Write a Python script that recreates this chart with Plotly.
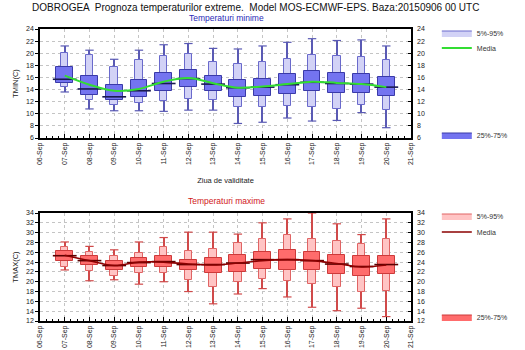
import plotly.graph_objects as go
import pandas as pd

# ---------------- data ----------------
days = pd.date_range("2015-09-07", "2015-09-20", freq="D").strftime("%Y-%m-%d").tolist()

tmin_max = [21.2, 20.5, 19.0, 20.5, 21.4, 21.6, 20.8, 20.7, 21.2, 21.8, 22.4, 22.1, 22.2, 21.2]
tmin_p95 = [20.0, 19.7, 17.7, 18.8, 19.5, 19.8, 18.6, 18.3, 18.6, 19.1, 19.7, 19.6, 19.3, 18.8]
tmin_p75 = [17.7, 16.2, 14.8, 15.6, 16.7, 17.3, 16.3, 15.6, 15.8, 16.6, 17.1, 16.7, 16.6, 16.0]
tmin_med = [15.7, 14.1, 12.8, 13.8, 15.0, 15.8, 14.9, 14.3, 14.4, 14.8, 15.2, 15.0, 14.9, 14.4]
tmin_p25 = [15.1, 13.1, 12.3, 12.8, 13.8, 14.5, 13.7, 12.8, 12.9, 13.2, 13.8, 13.4, 13.4, 12.9]
tmin_p05 = [14.5, 12.2, 11.4, 11.7, 12.1, 12.4, 12.2, 11.1, 11.1, 11.3, 11.2, 10.8, 11.5, 10.6]
tmin_min = [13.6, 10.8, 10.5, 10.5, 10.4, 10.6, 10.6, 8.4, 8.6, 9.3, 8.8, 8.9, 10.2, 7.7]
tmin_mean = [16.3, 14.8, 13.8, 14.1, 15.3, 15.9, 15.05, 14.3, 14.5, 14.9, 15.3, 15.1, 14.9, 14.4]

tmax_max = [28.1, 27.2, 26.5, 28.1, 29.0, 30.1, 30.1, 29.7, 32.0, 32.8, 34.0, 31.8, 29.6, 32.8]
tmax_p95 = [27.1, 26.0, 25.3, 25.8, 27.1, 26.3, 26.7, 27.9, 28.7, 29.6, 28.8, 28.2, 27.7, 28.7]
tmax_p75 = [26.3, 25.2, 24.3, 24.8, 25.2, 24.5, 24.8, 25.5, 26.1, 26.4, 26.0, 25.5, 25.2, 25.3]
tmax_med = [25.3, 24.3, 23.3, 23.9, 24.1, 23.5, 23.5, 23.8, 24.5, 24.5, 24.3, 23.6, 23.1, 23.5]
tmax_p25 = [24.3, 23.5, 22.4, 23.1, 23.1, 22.4, 21.8, 22.0, 22.6, 22.4, 22.3, 21.6, 21.1, 21.6]
tmax_p05 = [23.1, 22.1, 21.2, 21.8, 21.8, 20.4, 18.9, 20.0, 20.5, 20.1, 19.5, 18.9, 18.0, 18.2]
tmax_min = [22.4, 20.2, 20.4, 19.5, 20.0, 18.0, 15.5, 17.5, 18.6, 16.9, 14.8, 14.1, 14.6, 12.9]
tmax_mean = [25.4, 24.3, 23.3, 24.0, 24.0, 23.6, 23.4, 23.8, 24.3, 24.5, 24.3, 23.7, 23.0, 23.4]

# ---------------- figure ----------------
DAY = 86400000
FONT = "Liberation Sans, Arial, sans-serif"
fig = go.Figure()

W, H = 525, 350
L, R, T, B = 40, 97, 29, 29
PW, PH = W - L - R, H - T - B


def px_x(x):
    return (x - L) / PW


def px_y(y):
    return (H - B - y) / PH


def panel(xa, ya, mx, p95, p75, med, p25, p05, mn, mean, col, lg):
    diff = lambda a, b: [u - v for u, v in zip(a, b)]
    fig.add_trace(go.Bar(x=days, base=mn, y=diff(mx, mn), width=0.05 * DAY,
                         marker=dict(color=col["wh"], line=dict(width=0)),
                         xaxis=xa, yaxis=ya, showlegend=False, hoverinfo="skip"))
    fig.add_trace(go.Bar(x=days, base=p05, y=diff(p95, p05), width=0.30 * DAY,
                         marker=dict(color=col["light"], line=dict(color=col["lightline"], width=1)),
                         xaxis=xa, yaxis=ya, showlegend=False, name="5%-95%"))
    fig.add_trace(go.Bar(x=days, base=p25, y=diff(p75, p25), width=0.68 * DAY,
                         marker=dict(color=col["dark"], line=dict(color=col["darkline"], width=1)),
                         xaxis=xa, yaxis=ya, showlegend=False, name="25%-75%"))
    fig.add_trace(go.Scatter(x=days + days, y=mx + mn, mode="markers",
                             marker=dict(symbol="line-ew", size=6, line=dict(color=col["wh"], width=1.2)),
                             xaxis=xa, yaxis=ya, showlegend=False, hoverinfo="skip"))
    fig.add_trace(go.Scatter(x=days, y=med, mode="markers",
                             marker=dict(symbol="line-ew", size=17, line=dict(color=col["med"], width=1.6)),
                             xaxis=xa, yaxis=ya, showlegend=False, name="Mediana"))
    fig.add_trace(go.Scatter(x=days, y=mean, mode="lines", name="Media",
                             line=dict(color=col["mean"], width=col["meanw"], shape="spline", smoothing=1.0),
                             xaxis=xa, yaxis=ya, legend=lg[1]))
    # legend entries for the boxes
    fig.add_trace(go.Scatter(x=[None], y=[None], mode="lines", fill="toself", name="5%-95%",
                             fillcolor=col["light"], line=dict(color=col["lightline"], width=1),
                             xaxis=xa, yaxis=ya, legend=lg[0]))
    fig.add_trace(go.Scatter(x=[None], y=[None], mode="lines", fill="toself", name="25%-75%",
                             fillcolor=col["dark"], line=dict(color=col["darkline"], width=1),
                             xaxis=xa, yaxis=ya, legend=lg[2]))


blue = dict(wh="#5a5ab4", light="#d2d2f6", lightline="#6a6acc", dark="#7474f0",
            darkline="#3a3aa8", med="#1a1a50", mean="#33dd33", meanw=2)
red = dict(wh="#d04a4a", light="#ffc4c4", lightline="#e06464", dark="#ff6c6c",
           darkline="#cc3a3a", med="#5a0000", mean="#8b0000", meanw=1.6)

panel("x", "y", tmin_max, tmin_p95, tmin_p75, tmin_med, tmin_p25, tmin_p05, tmin_min, tmin_mean,
      blue, ["legend", "legend2", "legend3"])
panel("x2", "y2", tmax_max, tmax_p95, tmax_p75, tmax_med, tmax_p25, tmax_p05, tmax_min, tmax_mean,
      red, ["legend4", "legend5", "legend6"])

# invisible traces to activate the right-hand label axes
fig.add_trace(go.Scatter(x=days, y=tmin_mean, mode="lines", line=dict(width=0), opacity=0,
                         xaxis="x", yaxis="y3", showlegend=False, hoverinfo="skip"))
fig.add_trace(go.Scatter(x=days, y=tmax_mean, mode="lines", line=dict(width=0), opacity=0,
                         xaxis="x2", yaxis="y4", showlegend=False, hoverinfo="skip"))

top_dom = [px_y(138), 1]
bot_dom = [0, px_y(213)]

xcommon = dict(type="date", range=["2015-09-06", "2015-09-21"], dtick=DAY, tick0="2015-09-06",
               tickformat="%d-%b", tickangle=-90, ticks="inside", ticklen=4, tickcolor="black",
               minor=dict(dtick=DAY / 4, ticks="inside", ticklen=2, tickcolor="black", showgrid=False),
               showgrid=True, gridcolor="#c4c4c4", griddash="dot", gridwidth=1,
               showline=True, linecolor="black", linewidth=1.5, mirror=True,
               tickfont=dict(size=7, color="#222222", family=FONT), automargin=False, zeroline=False)
ycommon = dict(dtick=2, ticks="outside", ticklen=3, tickcolor="black",
               showgrid=True, gridcolor="#c4c4c4", griddash="dot", gridwidth=1,
               showline=True, linecolor="black", linewidth=1.5, mirror=True,
               tickfont=dict(size=7, color="#222222", family=FONT), automargin=False, zeroline=False)
yright = dict(dtick=2, ticks="inside", ticklen=3, tickcolor="black", side="right",
              showgrid=False, showline=False, zeroline=False, ticklabelstandoff=5,
              tickfont=dict(size=7, color="#222222", family=FONT), automargin=False)

fig.update_layout(
    width=W, height=H,
    margin=dict(l=L, r=R, t=T, b=B),
    paper_bgcolor="white", plot_bgcolor="white",
    barmode="overlay", bargap=0,
    font=dict(family=FONT, color="#222222"),
    xaxis=dict(**xcommon, anchor="y",
               title=dict(text="Ziua de validitate", font=dict(size=7.5, color="#222222"), standoff=14)),
    xaxis2=dict(**xcommon, anchor="y2"),
    yaxis=dict(**ycommon, domain=top_dom, range=[6, 24], anchor="x",
               title=dict(text="TMIN(C)", font=dict(size=7.5), standoff=6)),
    yaxis2=dict(**ycommon, domain=bot_dom, range=[12, 34], anchor="x2",
                title=dict(text="TMAX(C)", font=dict(size=7.5), standoff=6)),
    yaxis3=dict(**yright, overlaying="y", range=[6, 24], anchor="x"),
    yaxis4=dict(**yright, overlaying="y2", range=[12, 34], anchor="x2"),
    title=dict(text="DOBROGEA  Prognoza temperaturilor extreme.  Model MOS-ECMWF-EPS. Baza:20150906 00 UTC",
               x=32 / W, xanchor="left", xref="container", y=1 - 7 / H, yanchor="middle", yref="container",
               font=dict(size=10, color="#111111", family=FONT)),
    annotations=[
        dict(text="Temperaturi minime", x=px_x(235), y=px_y(18), xref="paper", yref="paper",
             xanchor="center", yanchor="middle",
             showarrow=False, font=dict(size=8.5, color="#2a2ab8", family=FONT)),
        dict(text="Temperaturi maxime", x=px_x(235), y=px_y(201), xref="paper", yref="paper",
             xanchor="center", yanchor="middle",
             showarrow=False, font=dict(size=8.5, color="#d02020", family=FONT)),
    ],
)

leg_font = dict(size=7, color="#333333", family=FONT)
for name, ypx in [("legend", 33), ("legend2", 48), ("legend3", 135),
                  ("legend4", 216), ("legend5", 232), ("legend6", 317)]:
    fig.update_layout({name: dict(x=px_x(455), y=px_y(ypx), xanchor="left", yanchor="middle",
                                  xref="paper", yref="paper", bgcolor="rgba(0,0,0,0)",
                                  borderwidth=0, font=leg_font, itemwidth=30,
                                  tracegroupgap=0)})

fig.write_html("out.html")
